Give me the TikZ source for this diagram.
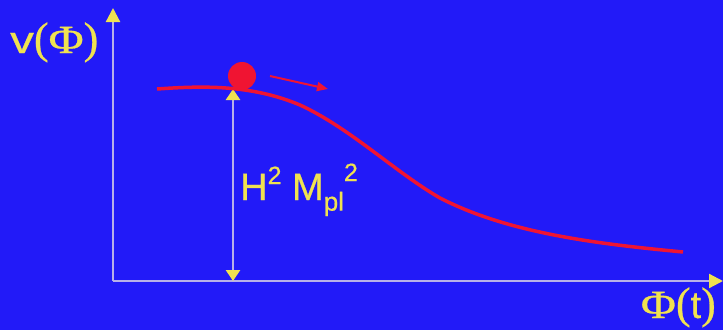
\documentclass[tikz,border=0pt]{standalone}
\usepackage{fontspec}
\setmainfont[FakeBold=0.6]{Liberation Sans}
\newfontfamily\phifont[FakeBold=0.6]{Liberation Serif}
\usetikzlibrary{arrows.meta}
\definecolor{bg}{RGB}{34,26,248}
\definecolor{axyel}{RGB}{240,226,80}
\definecolor{axline}{RGB}{184,176,232}
\definecolor{curvered}{RGB}{240,20,50}
\newcommand{\bigphi}{{\phifont\fontsize{40}{40}\selectfont\scalebox{1.2}[1]{Φ}}}
\newcommand{\lp}{{\phifont\fontsize{44}{44}\selectfont(}}
\newcommand{\rp}{{\phifont\fontsize{44}{44}\selectfont)}}
\tikzset{
  axis/.style={draw=axline, line width=2.2pt, -{Triangle[color=axyel,length=14pt,width=14pt]}},
  height/.style={draw=axline, line width=2.6pt, {Triangle[color=axyel,length=11pt,width=14pt]}-{Triangle[color=axyel,length=11pt,width=14pt]}},
  lbl/.style={text=axyel, inner sep=0pt, font=\fontsize{38}{38}\selectfont},
  pot/.style={draw=curvered, line width=3.5pt},
  roll/.style={draw=curvered, line width=2pt, -{Triangle[length=11pt,width=9pt]}},
}
\begin{document}
\begin{tikzpicture}[x=1pt,y=-1pt]
\fill[bg] (0,0) rectangle (723,330);
\useasboundingbox (0,0) rectangle (723,330);
\coordinate (O) at (113,281);
\coordinate (ytop) at (113,8);
\coordinate (xend) at (723,281);
\draw[axis] (O) -- (ytop);
\draw[axis] (O) -- (xend);
\node[lbl, anchor=base west] (vlab) at (10,53) {\scalebox{1.25}[1]{v}\lp\bigphi\rp};
\node[lbl, anchor=base east] (tlab) at (716,318) {\bigphi\lp t\rp};
\coordinate (htop) at (233,89);
\coordinate (hbot) at (233,281);
\draw[height] (hbot) -- (htop);
\node[lbl, anchor=base west] (hlab) at (240,200) {H\raisebox{0.42em}{\fontsize{25}{25}\selectfont 2} M\raisebox{-0.28em}{\fontsize{26}{26}\selectfont pl}\raisebox{0.5em}{\fontsize{25}{25}\selectfont 2}};
\draw[pot] (157,89) .. controls (200,86) and (250,84) .. (300,105)
  .. controls (350,128) and (395,172) .. (440,198)
  .. controls (510,234) and (600,244) .. (683,252);
\node[circle, fill=curvered, minimum size=28pt, inner sep=0pt] (ball) at (242,76) {};
\coordinate (rs) at (270,76);
\coordinate (re) at (328,89);
\draw[roll] (rs) -- (re);
\end{tikzpicture}
\end{document}
